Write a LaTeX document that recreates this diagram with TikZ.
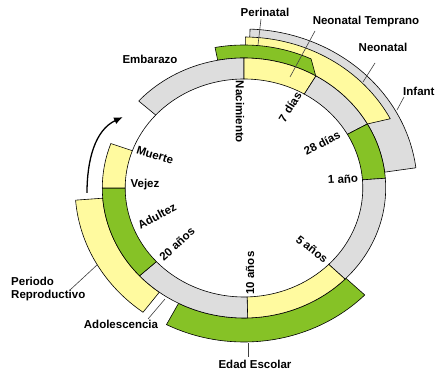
\documentclass[tikz,border=0pt]{standalone}
\usepackage{fontspec}
\setmainfont{Liberation Sans}
\usetikzlibrary{arrows.meta}
\definecolor{cyel}{HTML}{FFFA9F}
\definecolor{cgrn}{HTML}{86C226}
\definecolor{cgry}{HTML}{DDDDDD}
\newcommand{\ringseg}[7]{\path[#7] (#1:#5) arc[start angle=#1, end angle=#2, radius=#5] -- (#4:#6) arc[start angle=#4, end angle=#3, radius=#6] -- cycle;}
\begin{document}
\begin{tikzpicture}[x=1pt,y=1pt,
  seg/.style={draw=black, line width=0.6pt, line join=miter},
  lbl/.style={font=\bfseries\fontsize{11.5}{12}\selectfont, inner sep=0pt, text=black},
  leader/.style={draw=black!75, line width=0.6pt}]
\useasboundingbox (0,0) rectangle (437,374);
\fill[white] (0,0) rectangle (437,374);
\begin{scope}[shift={(244,186)}, xscale=1.09]
  % outer layered bands
  \ringseg{88}{7}{88}{7.3}{130}{159}{seg, fill=cgry}
  \ringseg{89.5}{29.5}{89.5}{27.3}{130}{151}{seg, fill=cyel}
  \ringseg{100.7}{59.6}{100.7}{64.5}{130}{143}{seg, fill=cgrn}
  \ringseg{-44}{-117.5}{-44}{-117.5}{130}{154}{seg, fill=cgrn}
  \ringseg{184.5}{233.3}{184.5}{233.3}{130}{155}{seg, fill=cyel}
  % inner ring
  \ringseg{138}{90}{138}{90}{109}{130}{seg, fill=cgry}
  \ringseg{90}{59.5}{90}{59.5}{109}{130}{seg, fill=cyel}
  \ringseg{59.5}{29.5}{59.5}{29.5}{109}{130}{seg, fill=cgry}
  \ringseg{29.5}{4.3}{29.5}{4.3}{109}{130}{seg, fill=cgrn}
  \ringseg{4.3}{-44.5}{4.3}{-44.5}{109}{130}{seg, fill=cgry}
  \ringseg{-44.5}{-88.5}{-44.5}{-88.5}{109}{130}{seg, fill=cyel}
  \ringseg{-88.5}{-137.5}{-88.5}{-137.5}{109}{130}{seg, fill=cgry}
  \ringseg{-137.5}{-180}{-137.5}{-180}{109}{130}{seg, fill=cgrn}
  \ringseg{180}{160}{180}{160}{109}{130}{seg, fill=cyel}
  \draw[line width=0.6pt] (160:109) arc[start angle=160, end angle=138, radius=109];
\end{scope}
% arrow
\coordinate (arrA) at (87,181);
\coordinate (arrB) at (123,257);
\draw[line width=1.3pt, -{Latex[length=9pt,width=7pt]}] (arrA) .. controls (87,214) and (95,244) .. (arrB);
% labels
\node[lbl] (lPeri) at (265,361.5) {Perinatal};
\node[lbl] (lNT) at (366,352) {Neonatal Temprano};
\node[lbl] (lNeo) at (383,327) {Neonatal};
\node[lbl, anchor=west] (lInf) at (403,283) {Infant};
\node[lbl] (lEmb) at (150,315) {Embarazo};
\node[lbl, rotate=-90] (lNac) at (240,262) {Nacimiento};
\node[lbl, rotate=58] (l7) at (290,267) {7 días};
\node[lbl, rotate=28] (l28) at (322,231) {28 días};
\node[lbl, rotate=3] (l1) at (343,195) {1 año};
\node[lbl, rotate=-38] (l5) at (312,125) {5 años};
\node[lbl, rotate=90] (l10) at (250,101) {10 años};
\node[lbl, rotate=42] (l20) at (177,130) {20 años};
\node[lbl, rotate=28] (lAdu) at (157,158) {Adultez};
\node[lbl] (lVej) at (145,189) {Vejez};
\node[lbl, rotate=-17] (lMue) at (155,219) {Muerte};
\node[lbl, anchor=north west, align=left, font=\bfseries\fontsize{11.5}{13}\selectfont] (lPer) at (11,97) {Periodo\\Reproductivo};
\node[lbl] (lAdo) at (121,50) {Adolescencia};
\node[lbl] (lEsc) at (255,10) {Edad Escolar};
% leader lines
\coordinate (a1) at (261,355); \coordinate (b1) at (258,329);
\coordinate (a2) at (315,343); \coordinate (b2) at (290,297);
\coordinate (a3) at (375,311); \coordinate (b3) at (363,292);
\coordinate (a4) at (404,277); \coordinate (b4) at (397,264);
\coordinate (a5) at (70,84);   \coordinate (b5) at (97,109);
\coordinate (a6) at (148,55);  \coordinate (b6) at (165,75);
\coordinate (a7) at (248,17);  \coordinate (b7) at (248,31);
\draw[leader] (a1) -- (b1);
\draw[leader] (a2) -- (b2);
\draw[leader] (a3) -- (b3);
\draw[leader] (a4) -- (b4);
\draw[leader] (a5) -- (b5);
\draw[leader] (a6) -- (b6);
\draw[leader] (a7) -- (b7);
\end{tikzpicture}
\end{document}
